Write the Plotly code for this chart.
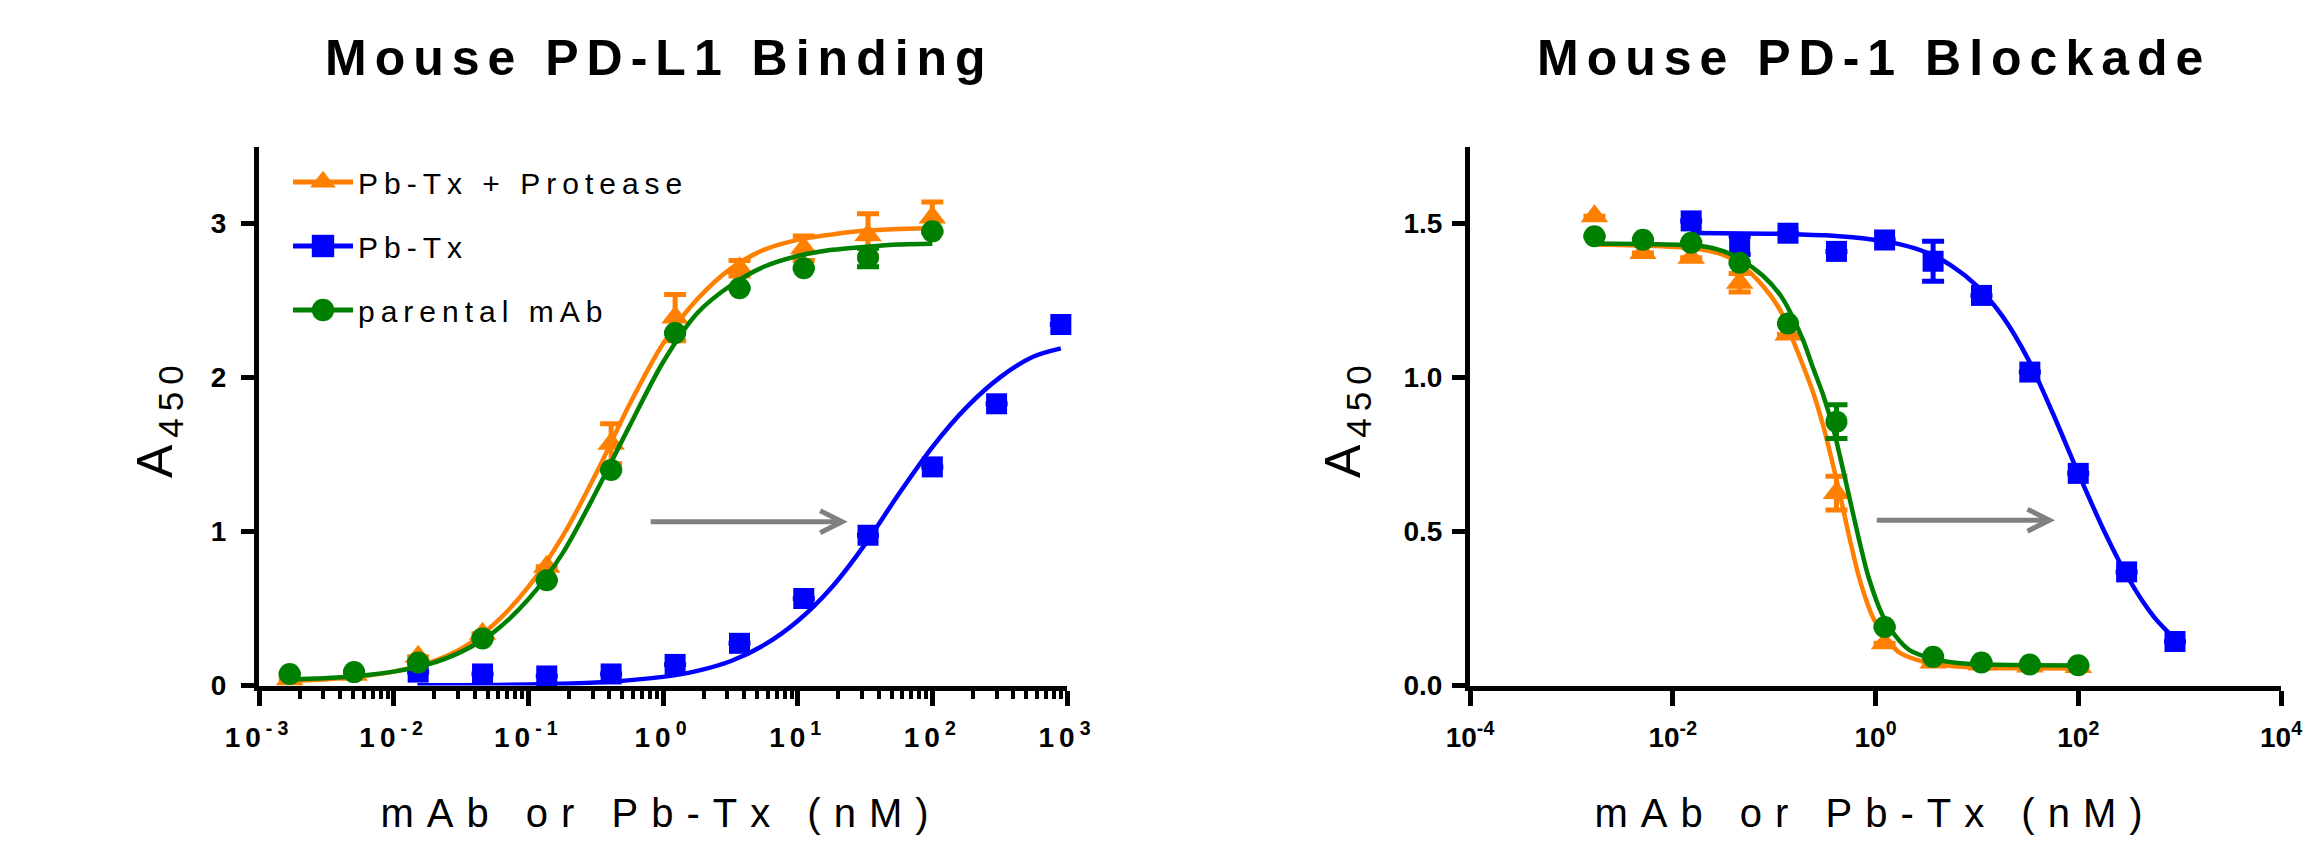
import plotly.graph_objects as go

W, H = 2312, 858
FONT = "Liberation Sans, Arial, Helvetica, sans-serif"
ORANGE = "#FF7F00"
BLUE = "#0000FF"
GREEN = "#008000"
GRAY = "#808080"

SERIES = ["Pb-Tx + Protease", "Pb-Tx", "parental mAb"]
TITLES = ["Mouse PD-L1 Binding", "Mouse PD-1 Blockade"]
X_TITLE = "mAb or Pb-Tx (nM)"
Y_TITLE = "A<sub>450</sub>"

# ---- concentrations (nM) ----
MAB_CONC = [0.00169, 0.00508, 0.0152, 0.0457, 0.137, 0.412, 1.23, 3.70, 11.1, 33.3, 100]
PBTX_CONC = [0.0152, 0.0457, 0.137, 0.412, 1.23, 3.70, 11.1, 33.3, 100, 300, 900]

# ---- left panel: binding ----
BIND_PROT = [0.04, 0.07, 0.187, 0.336, 0.772, 1.57, 2.39, 2.71, 2.84, 2.925, 3.04]
BIND_PROT_ERR = [0, 0, 0, 0, 0, 0.13, 0.15, 0.05, 0.08, 0.14, 0.10]
BIND_PBTX = [0.087, 0.075, 0.062, 0.075, 0.137, 0.274, 0.565, 0.976, 1.42, 1.83, 2.345]
BIND_PBTX_ERR = [0, 0, 0, 0, 0, 0, 0, 0, 0, 0, 0]
BIND_MAB = [0.075, 0.087, 0.15, 0.306, 0.684, 1.40, 2.29, 2.58, 2.71, 2.78, 2.95]
BIND_MAB_ERR = [0, 0, 0, 0, 0, 0, 0, 0, 0, 0.06, 0]

# fitted curves
BIND_FIT_X = [0.0017, 0.0032, 0.0056, 0.01, 0.018, 0.032, 0.056, 0.1, 0.18, 0.32,
              0.56, 1.0, 1.8, 3.2, 5.6, 10, 18, 32, 56, 100]
BIND_FIT_PROT = [0.031, 0.041, 0.058, 0.090, 0.145, 0.24, 0.40, 0.64, 0.97, 1.38,
                 1.82, 2.22, 2.51, 2.71, 2.83, 2.895, 2.93, 2.955, 2.966, 2.972]
BIND_FIT_MAB = [0.039, 0.048, 0.063, 0.090, 0.137, 0.22, 0.35, 0.56, 0.86, 1.26,
                1.68, 2.10, 2.42, 2.60, 2.72, 2.79, 2.83, 2.85, 2.865, 2.87]
BIND_FIT_PBTX_X = [0.015, 0.032, 0.1, 0.32, 1.0, 1.8, 3.2, 5.6, 10, 18, 32, 56,
                   100, 180, 320, 560, 900]
BIND_FIT_PBTX = [0.001, 0.002, 0.006, 0.019, 0.056, 0.095, 0.159, 0.262, 0.419, 0.64,
                 0.923, 1.241, 1.549, 1.808, 2.003, 2.136, 2.19]

# ---- right panel: blockade ----
BLOCK_PROT = [1.524, 1.405, 1.389, 1.308, 1.14, 0.625, 0.137, 0.075, 0.068, 0.062, 0.06]
BLOCK_PROT_ERR = [0, 0, 0, 0.03, 0, 0.055, 0, 0, 0, 0, 0]
BLOCK_PBTX = [1.509, 1.43, 1.469, 1.41, 1.447, 1.378, 1.267, 1.018, 0.689, 0.369, 0.143]
BLOCK_PBTX_ERR = [0, 0.03, 0, 0, 0, 0.065, 0, 0, 0, 0, 0]
BLOCK_MAB = [1.459, 1.448, 1.438, 1.373, 1.176, 0.857, 0.19, 0.093, 0.075, 0.068, 0.066]
BLOCK_MAB_ERR = [0, 0, 0, 0, 0, 0.055, 0, 0, 0, 0, 0]

BLOCK_FIT_PROT_X = [0.0017, 0.0056, 0.018, 0.032, 0.046, 0.078, 0.114, 0.143, 0.194, 0.243,
                    0.305, 0.383, 0.446, 0.562, 0.697, 0.948, 1.25, 1.76, 3.16, 5.62,
                    10, 31.6, 100]
BLOCK_FIT_PROT = [1.432, 1.428, 1.418, 1.398, 1.37, 1.297, 1.221, 1.146, 1.037, 0.951,
                  0.843, 0.713, 0.62, 0.47, 0.345, 0.22, 0.155, 0.105, 0.075, 0.063,
                  0.058, 0.056, 0.055]
BLOCK_FIT_MAB_X = [0.0017, 0.0056, 0.018, 0.032, 0.046, 0.078, 0.114, 0.143, 0.194, 0.243,
                   0.305, 0.383, 0.446, 0.562, 0.697, 0.857, 1.167, 1.538, 2.163, 3.89,
                   6.92, 10, 31.6, 100]
BLOCK_FIT_MAB = [1.436, 1.434, 1.428, 1.41, 1.385, 1.33, 1.27, 1.215, 1.12, 1.03,
                 0.943, 0.835, 0.745, 0.60, 0.466, 0.35, 0.23, 0.165, 0.115, 0.085,
                 0.072, 0.069, 0.066, 0.065]
BLOCK_FIT_PBTX_X = [0.015, 0.1, 0.32, 1.0, 1.8, 3.2, 5.6, 10, 18, 32, 56, 100, 180,
                    320, 560, 900]
BLOCK_FIT_PBTX = [1.4695, 1.467, 1.462, 1.447, 1.432, 1.406, 1.364, 1.298, 1.198, 1.06,
                  0.885, 0.69, 0.502, 0.342, 0.222, 0.151]

# ---- axis ticks ----
BIND_XTICKS = [1e-3, 1e-2, 1e-1, 1e0, 1e1, 1e2, 1e3]
BIND_XLABELS = ["10<sup>-3</sup>", "10<sup>-2</sup>", "10<sup>-1</sup>", "10<sup>0</sup>",
                "10<sup>1</sup>", "10<sup>2</sup>", "10<sup>3</sup>"]
BLOCK_XTICKS = [1e-4, 1e-2, 1e0, 1e2, 1e4]
BLOCK_XLABELS = ["10<sup>-4</sup>", "10<sup>-2</sup>", "10<sup>0</sup>", "10<sup>2</sup>",
                 "10<sup>4</sup>"]
BIND_YTICKS = [0, 1, 2, 3]
BLOCK_YTICKS = [0, 0.5, 1.0, 1.5]

BIND_XRANGE = (-3, 3)
BIND_YRANGE = (0, 3.5)
BLOCK_XRANGE = (-4, 4)
BLOCK_YRANGE = (0, 1.75)

# plot-area pixel boxes (left, right, top, bottom)
BIND_BOX = (259, 1067, 146.7, 685.5)
BLOCK_BOX = (1470, 2281, 146.7, 685.5)

# gray shift arrows (x from -> to, y)
BIND_ARROW = (0.81, 21.4, 1.064)
BLOCK_ARROW = (1.03, 52.0, 0.537)
HEAD_PX = (22, 11)   # arrow-head arm length back / half-height, px

fig = go.Figure()


def add_series(xa, ya, conc, vals, err, fit_x, fit_y, color, symbol, size):
    fig.add_trace(go.Scatter(
        x=fit_x, y=fit_y, mode="lines", xaxis=xa, yaxis=ya, showlegend=False,
        line=dict(color=color, width=4.5, shape="spline", smoothing=0.8),
        hoverinfo="skip"))
    fig.add_trace(go.Scatter(
        x=conc, y=vals, mode="markers", xaxis=xa, yaxis=ya, showlegend=False,
        cliponaxis=False,
        marker=dict(color=color, symbol=symbol, size=size, line=dict(width=0)),
        error_y=dict(type="data", array=err, visible=True, color=color,
                     thickness=5, width=11)))


add_series("x", "y", PBTX_CONC, BIND_PBTX, BIND_PBTX_ERR, BIND_FIT_PBTX_X, BIND_FIT_PBTX,
           BLUE, "square", 21)
add_series("x", "y", MAB_CONC, BIND_PROT, BIND_PROT_ERR, BIND_FIT_X, BIND_FIT_PROT,
           ORANGE, "triangle-up", 24)
add_series("x", "y", MAB_CONC, BIND_MAB, BIND_MAB_ERR, BIND_FIT_X, BIND_FIT_MAB,
           GREEN, "circle", 22)
add_series("x2", "y2", PBTX_CONC, BLOCK_PBTX, BLOCK_PBTX_ERR, BLOCK_FIT_PBTX_X, BLOCK_FIT_PBTX,
           BLUE, "square", 21)
add_series("x2", "y2", MAB_CONC, BLOCK_PROT, BLOCK_PROT_ERR, BLOCK_FIT_PROT_X, BLOCK_FIT_PROT,
           ORANGE, "triangle-up", 24)
add_series("x2", "y2", MAB_CONC, BLOCK_MAB, BLOCK_MAB_ERR, BLOCK_FIT_MAB_X, BLOCK_FIT_MAB,
           GREEN, "circle", 22)

for name, color, symbol, size in zip(SERIES, [ORANGE, BLUE, GREEN],
                                     ["triangle-up", "square", "circle"], [24, 21, 22]):
    fig.add_trace(go.Scatter(
        x=[None], y=[None], mode="lines+markers", name=name, legendgroup=name,
        xaxis="x", yaxis="y",
        line=dict(color=color, width=5),
        marker=dict(color=color, symbol=symbol, size=size)))

tickfont = dict(family=FONT, size=28, color="black", weight="bold")
common_x = dict(type="log", showgrid=False, zeroline=False, showline=True, linewidth=5,
                linecolor="black", ticks="outside", ticklen=15, tickwidth=5,
                tickcolor="black", tickfont=tickfont, tickmode="array",
                automargin=False, ticklabelstandoff=8)
common_y = dict(showgrid=False, zeroline=False, showline=True, linewidth=5,
                linecolor="black", ticks="outside", ticklen=13, tickwidth=5,
                tickcolor="black", tickfont=tickfont, tickmode="array",
                automargin=False, ticklabelstandoff=4)


def xdom(box):
    return [box[0] / W, box[1] / W]


def ydom(box):
    return [1 - box[3] / H, 1 - box[2] / H]


fig.update_layout(
    width=W, height=H, margin=dict(l=0, r=0, t=0, b=0),
    paper_bgcolor="white", plot_bgcolor="white",
    xaxis=dict(common_x, domain=xdom(BIND_BOX), range=list(BIND_XRANGE), anchor="y",
               tickvals=BIND_XTICKS, ticktext=BIND_XLABELS,
               minor=dict(ticks="outside", ticklen=8, tickwidth=4, tickcolor="black",
                          dtick="D1", showgrid=False)),
    yaxis=dict(common_y, domain=ydom(BIND_BOX), range=list(BIND_YRANGE), anchor="x",
               tickvals=BIND_YTICKS, ticktext=[str(v) for v in BIND_YTICKS]),
    xaxis2=dict(common_x, domain=xdom(BLOCK_BOX), range=list(BLOCK_XRANGE), anchor="y2",
                tickvals=BLOCK_XTICKS, ticktext=BLOCK_XLABELS),
    yaxis2=dict(common_y, domain=ydom(BLOCK_BOX), range=list(BLOCK_YRANGE), anchor="x2",
                tickvals=BLOCK_YTICKS, ticktext=[f"{v:.1f}" for v in BLOCK_YTICKS]),
    showlegend=True,
    legend=dict(x=288 / W, y=1 - 156 / H, xanchor="left", yanchor="top",
                bgcolor="rgba(0,0,0,0)", font=dict(family=FONT, size=30, color="black"),
                itemwidth=60, tracegroupgap=22, itemsizing="trace", traceorder="grouped"),
)

ann = []
for title, cx in zip(TITLES, [659, 1874]):
    ann.append(dict(text=title, x=cx / W, y=1 - 58 / H, xref="paper", yref="paper",
                    xanchor="center", yanchor="middle", showarrow=False,
                    font=dict(family=FONT, size=50, color="black", weight="bold")))
for cx in [661, 1875]:
    ann.append(dict(text=X_TITLE, x=cx / W, y=1 - 813 / H, xref="paper", yref="paper",
                    xanchor="center", yanchor="middle", showarrow=False,
                    font=dict(family=FONT, size=40, color="black")))
for cx in [158, 1346]:
    ann.append(dict(text=Y_TITLE, x=cx / W, y=1 - 418 / H, xref="paper", yref="paper",
                    xanchor="center", yanchor="middle", showarrow=False, textangle=-90,
                    font=dict(family=FONT, size=50, color="black")))
fig.update_layout(annotations=ann)

for (x0, x1, yv), xr, yr, box, xrng, yrng in [
        (BIND_ARROW, "x", "y", BIND_BOX, BIND_XRANGE, BIND_YRANGE),
        (BLOCK_ARROW, "x2", "y2", BLOCK_BOX, BLOCK_XRANGE, BLOCK_YRANGE)]:
    px_per_dec = (box[1] - box[0]) / (xrng[1] - xrng[0])
    px_per_unit = (box[3] - box[2]) / (yrng[1] - yrng[0])
    xb = x1 / 10 ** (HEAD_PX[0] / px_per_dec)
    dy = HEAD_PX[1] / px_per_unit
    fig.add_shape(type="line", xref=xr, yref=yr, x0=x0, x1=x1, y0=yv, y1=yv,
                  line=dict(color=GRAY, width=5))
    fig.add_shape(type="path", xref=xr, yref=yr,
                  path=f"M {xb},{yv + dy} L {x1},{yv} L {xb},{yv - dy}",
                  line=dict(color=GRAY, width=5))

POST = """
document.body.style.margin = '0';
var gd = document.getElementById('{plot_id}');
function sp(sel, v, test) {
  gd.querySelectorAll(sel).forEach(function(e) {
    if (!test || test(e.textContent)) { e.style.letterSpacing = v; }
  });
}
sp('.annotation-text', '8px', function(t) { return t.indexOf('Mouse') === 0; });
sp('.annotation-text', '13px', function(t) { return t.indexOf('mAb') === 0; });
sp('.annotation-text', '7px', function(t) { return t.indexOf('450') > 0; });
sp('.xtick text, .ytick text', '5px');
sp('.legendtext', '6px');
gd.querySelectorAll('.legend .scrollbox').forEach(function(e) { e.removeAttribute('clip-path'); });
// legend symbols are size-capped by plotly; scale them to the plotted marker size
gd.querySelectorAll('.legend .legendpoints path.scatterpts').forEach(function(p) {
  var tr = p.getAttribute('transform') || '';
  p.setAttribute('transform', tr + ' scale(1.4)');
});
"""

fig.write_html("out.html", post_script=POST,
               config={"responsive": False, "displayModeBar": False})
